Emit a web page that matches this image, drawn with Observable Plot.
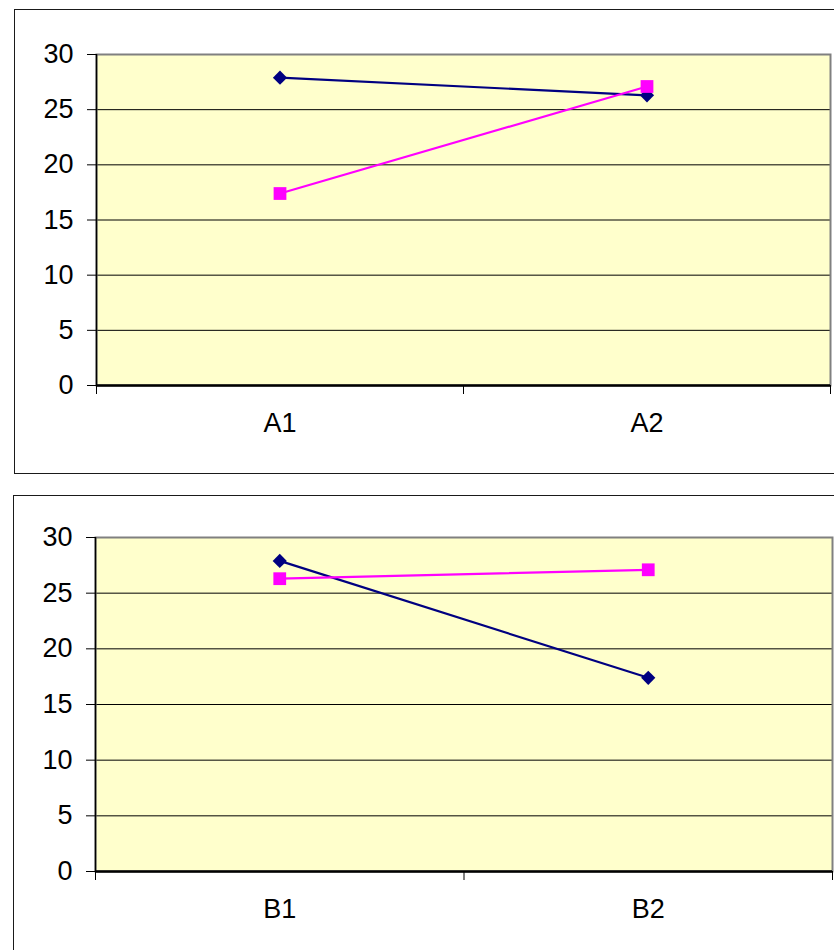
<!DOCTYPE html>
<html>
<head>
<meta charset="utf-8">
<script src="https://cdn.jsdelivr.net/npm/d3@7"></script>
<script src="https://cdn.jsdelivr.net/npm/@observablehq/plot@0.6"></script>
<style>
  html, body { margin: 0; padding: 0; background: #fff; overflow: hidden; }
  body { width: 834px; height: 950px; position: relative; }
  .panel { position: absolute; border: 1px solid #1a1a1a; background: #fff; }
  .panel svg { position: absolute; left: 0; top: 0; }
</style>
</head>
<body>
<div id="p1" class="panel" style="left:14px; top:9px; width:900px; height:463px;"></div>
<div id="p2" class="panel" style="left:13px; top:495px; width:900px; height:470px;"></div>
<script>
// Factor levels
const aLevels = ["A1", "A2"];
const bLevels = ["B1", "B2"];
// Cell means: series B1 and B2 measured at A1, A2
const meanB1 = [27.9, 26.3];
const meanB2 = [17.4, 27.1];
// Y axis ticks
const yTicks = [0, 5, 10, 15, 20, 25, 30];

const navy = "#000080";
const magenta = "#FF00FF";
const font = "'Liberation Sans', Arial, sans-serif";

function panel({cats, first, second, width, height, marginLeft, marginRight, marginTop, marginBottom}) {
  const rows1 = cats.map((c, i) => ({pos: i + 0.5, cat: c, v: first[i]}));
  const rows2 = cats.map((c, i) => ({pos: i + 0.5, cat: c, v: second[i]}));
  const bounds = d3.range(cats.length + 1);
  return Plot.plot({
    width, height, marginLeft, marginRight, marginTop, marginBottom,
    style: {fontFamily: font, fontSize: "27px", color: "#000", background: "transparent"},
    x: {domain: [0, cats.length], axis: null, label: null},
    y: {domain: [0, 30], axis: null, label: null},
    marks: [
      Plot.frame({fill: "#FFFFCC", stroke: null}),
      Plot.ruleY(yTicks, {stroke: "#000", strokeWidth: 1}),
      Plot.frame({fill: "none", stroke: "#808080", strokeWidth: 2}),
      Plot.axisY({ticks: yTicks, tickSize: 9, tickPadding: 14, stroke: "#000", fontSize: 27, label: null}),
      Plot.axisX({ticks: bounds, tickSize: 9, tickFormat: () => "", stroke: "#000", label: null}),
      Plot.axisX({ticks: cats.map((c, i) => i + 0.5), tickSize: 0, tickPadding: 27,
                  tickFormat: d => cats[Math.floor(d)], fontSize: 27, label: null}),
      Plot.ruleX([0], {stroke: "#000", strokeWidth: 1.5}),
      Plot.ruleY([0], {stroke: "#000", strokeWidth: 2.5}),
      Plot.line(rows1, {x: "pos", y: "v", stroke: navy, strokeWidth: 2.2}),
      Plot.dot(rows1, {x: "pos", y: "v", symbol: "diamond2", r: 6.4, fill: navy, stroke: null}),
      Plot.line(rows2, {x: "pos", y: "v", stroke: magenta, strokeWidth: 2.2}),
      Plot.dot(rows2, {x: "pos", y: "v", symbol: "square", r: 7.2, fill: magenta, stroke: null})
    ]
  });
}

// Top: B levels as series across A
document.getElementById("p1").append(panel({
  cats: aLevels, first: meanB1, second: meanB2,
  width: 819, height: 462, marginLeft: 81, marginRight: 4, marginTop: 44, marginBottom: 87
}));

// Bottom: A levels as series across B
const meanA1 = bLevels.map((_, j) => [meanB1, meanB2][j][0]);
const meanA2 = bLevels.map((_, j) => [meanB1, meanB2][j][1]);
document.getElementById("p2").append(panel({
  cats: bLevels, first: meanA1, second: meanA2,
  width: 820, height: 460, marginLeft: 81, marginRight: 2, marginTop: 41, marginBottom: 85
}));
</script>
</body>
</html>
